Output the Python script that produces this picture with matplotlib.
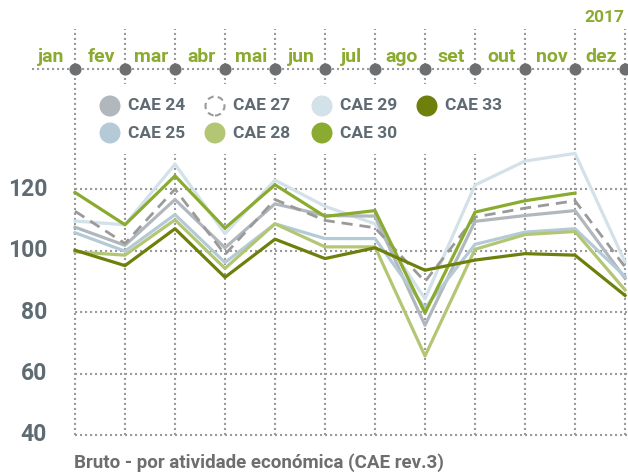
import numpy as np
import matplotlib.pyplot as plt
from matplotlib.patches import Circle, Rectangle

plt.rcParams['font.family'] = ['Roboto', 'DejaVu Sans']

# dados (índice mensal, 2017)
months = ['jan', 'fev', 'mar', 'abr', 'mai', 'jun', 'jul', 'ago', 'set', 'out', 'nov', 'dez']
yticks = [40, 60, 80, 100, 120]
cae24 = [107.6, 101.7, 116.6, 100.9, 115.2, 111.4, 111.2, 75.7, 109.5, 111.4, 113.0, 91.0]
cae25 = [105.8, 99.8, 111.7, 96.1, 108.7, 103.9, 103.9, 81.3, 102.0, 106.0, 107.1, 91.6]
cae27 = [112.8, 102.3, 120.0, 98.7, 116.6, 109.8, 107.4, 89.9, 110.9, 113.8, 116.2, 94.7]
cae28 = [99.6, 98.5, 110.0, 94.2, 108.7, 101.2, 101.2, 65.7, 100.4, 105.2, 106.2, 87.2]
cae29 = [109.6, 108.4, 128.1, 105.5, 122.9, 114.4, 108.7, 84.3, 121.3, 129.1, 131.6, 96.3]
cae30 = [118.9, 108.4, 124.3, 107.3, 121.4, 111.1, 113.0, 79.7, 112.5, 116.2, 118.7, np.nan]
cae33 = [100.1, 95.1, 107.1, 91.3, 103.7, 97.4, 100.9, 93.6, 96.9, 99.0, 98.5, 85.4]

GREEN = '#8aab2f'
TXT = '#5f6b73'
GRID = '#9b9b9b'
DOT = '#6d6e70'

W, H = 628, 475
fig = plt.figure(figsize=(W / 100, H / 100), dpi=100)


def fx(px):
    return px / W


def fy(py):
    return 1 - py / H


ax = fig.add_axes([fx(30), fy(435), fx(628) - fx(30), fy(20) - fy(435)])
ax.set_xlim(-0.9, 11.06)
ax.set_ylim(40, 175)
ax.axis('off')

x = np.arange(len(months))
dotted = (0, (1, 1.4))

# grelha
for v in yticks:
    ax.plot([0, 11.06], [v, v], color=GRID, lw=1.5, ls=dotted, clip_on=False, zorder=1)
    ax.text(-0.56, v, str(v), ha='right', va='center', fontsize=16.5,
            fontweight='bold', color=TXT)
for i in x:
    ax.plot([i, i], [40, 172], color=GRID, lw=1.5, ls=dotted, clip_on=False, zorder=1)

# eixo de cima com os meses
top_v = 159.0
ax.plot([-0.86, 11.06], [top_v, top_v], color=GRID, lw=1.5, ls=dotted, clip_on=False, zorder=2)
ax.scatter(x, [top_v] * len(x), s=60, color=DOT, zorder=3, clip_on=False)
for i, m in enumerate(months):
    ax.text(i - 0.47, 161.3, m, ha='center', va='baseline', fontsize=14,
            fontweight='bold', color=GREEN)

# séries
series = [
    ('CAE 29', cae29, '#d3e1e8', '-'),
    ('CAE 24', cae24, '#b1b8bd', '-'),
    ('CAE 25', cae25, '#b4cbd7', '-'),
    ('CAE 28', cae28, '#b3c674', '-'),
    ('CAE 27', cae27, '#9a9a9a', '--'),
    ('CAE 30', cae30, '#8aab2f', '-'),
    ('CAE 33', cae33, '#6e7f0c', '-'),
]
for name, vals, col, ls in series:
    if ls == '--':
        ax.plot(x, vals, color=col, lw=2.0, ls=(0, (4, 2.5)), zorder=4, clip_on=False)
    else:
        ax.plot(x, vals, color=col, lw=2.3, zorder=4, clip_on=False)

# legenda
fig.add_artist(Rectangle((fx(90), fy(154)), fx(510) - fx(90), fy(84) - fy(154),
                         transform=fig.transFigure, facecolor='white', edgecolor='none'))
colors = {name: col for name, vals, col, ls in series}
leg = [('CAE 24', 110, 106), ('CAE 27', 215, 106), ('CAE 29', 322, 106), ('CAE 33', 427, 106),
       ('CAE 25', 110, 133), ('CAE 28', 215, 133), ('CAE 30', 322, 133)]
for name, cx, cy in leg:
    if name == 'CAE 27':
        c = Circle((cx / 100, (H - cy) / 100), 0.095, transform=fig.dpi_scale_trans,
                   facecolor='white', edgecolor='#9a9a9a', lw=1.5, ls=(0, (3, 2)))
    else:
        c = Circle((cx / 100, (H - cy) / 100), 0.105, transform=fig.dpi_scale_trans,
                   facecolor=colors[name], edgecolor='none')
    fig.add_artist(c)
    fig.text(fx(cx + 18), fy(cy), name, ha='left', va='center', fontsize=12.5,
             fontweight='bold', color=TXT)

fig.text(fx(624), fy(17), '2017', ha='right', va='center', fontsize=12.5,
         fontweight='bold', color=GREEN)
fig.text(fx(74), fy(463), 'Bruto - por atividade económica (CAE rev.3)', ha='left',
         va='center', fontsize=13.5, fontweight='bold', color=DOT)

fig.savefig('out.png', dpi=100)
